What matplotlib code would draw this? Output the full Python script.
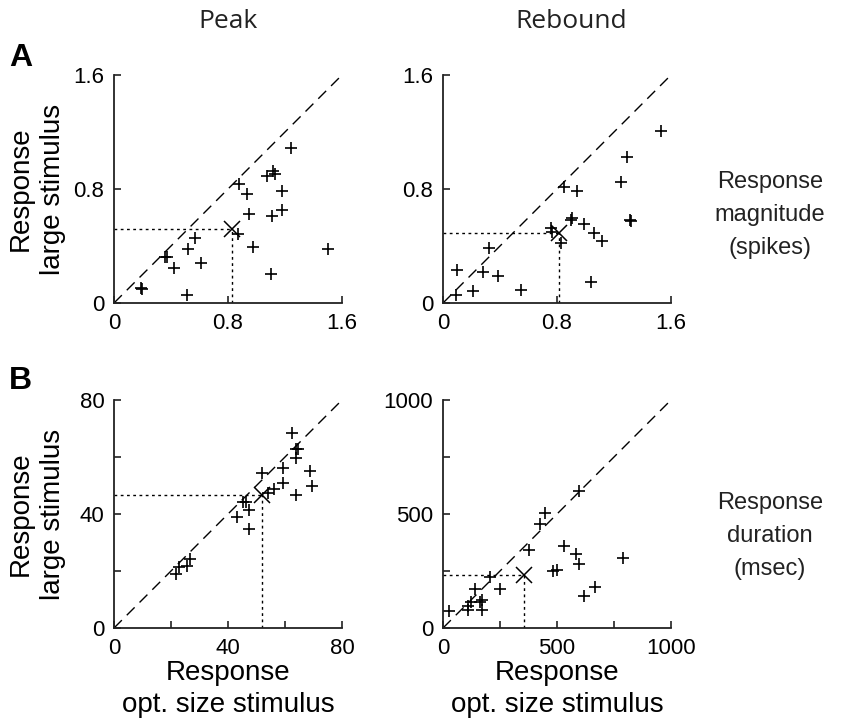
import numpy as np
import matplotlib
matplotlib.use("Agg")
import matplotlib.pyplot as plt
from matplotlib.ticker import FixedLocator, FuncFormatter

plt.rcParams['font.family'] = ['Liberation Sans', 'DejaVu Sans']

# --- data ---
# A, Peak: response magnitude (spikes)
peak_mag_x = [1.244, 1.073, 1.115, 1.129, 0.874, 0.930, 1.181, 0.947, 1.111, 1.176,
              0.872, 0.972, 1.502, 0.569, 0.520, 0.375, 0.358, 0.422, 0.612, 1.101,
              0.187, 0.195, 0.513]
peak_mag_y = [1.091, 0.888, 0.927, 0.906, 0.836, 0.766, 0.783, 0.624, 0.612, 0.656,
              0.481, 0.390, 0.381, 0.458, 0.376, 0.320, 0.320, 0.245, 0.280, 0.201,
              0.103, 0.100, 0.058]
peak_mag_mean = (0.829, 0.516)

# A, Rebound: response magnitude (spikes)
reb_mag_x = [1.530, 1.290, 1.250, 0.847, 0.943, 0.908, 0.899, 0.988, 1.314, 1.318,
             0.760, 0.765, 1.058, 1.114, 0.828, 0.324, 0.099, 0.282, 0.389, 1.037,
             0.211, 0.547, 0.094]
reb_mag_y = [1.210, 1.023, 0.848, 0.815, 0.787, 0.600, 0.584, 0.554, 0.579, 0.575,
             0.526, 0.498, 0.491, 0.432, 0.420, 0.383, 0.229, 0.217, 0.192, 0.147,
             0.082, 0.089, 0.058]
reb_mag_mean = (0.816, 0.491)

# B, Peak: response duration (msec)
peak_dur_x = [62.5, 63.7, 64.4, 63.8, 59.3, 68.9, 51.9, 59.4, 69.3, 56.2, 54.0,
              63.8, 45.3, 46.3, 47.3, 43.2, 47.3, 26.7, 22.7, 25.7, 21.8]
peak_dur_y = [68.3, 62.9, 62.9, 59.6, 56.1, 55.1, 54.5, 50.8, 49.8, 48.9, 47.2,
              46.6, 44.3, 44.3, 41.5, 39.1, 34.8, 24.2, 21.5, 21.6, 18.8]
peak_dur_mean = (51.9, 46.7)

# B, Rebound: response duration (msec)
reb_dur_x = [595, 447, 427, 375, 532, 582, 597, 790, 484, 499, 666, 619, 205, 252,
             142, 173, 161, 122, 109, 109, 172, 26]
reb_dur_y = [599, 504, 457, 343, 361, 326, 279, 307, 251, 254, 181, 142, 223, 172,
             171, 124, 114, 115, 98, 77, 80, 73]
reb_dur_mean = (356, 231)

W, H = 844, 726
fig = plt.figure(figsize=(W / 100, H / 100), dpi=100)


def px_axes(left, top, w=228, h=228):
    return fig.add_axes([left / W, 1 - (top + h) / H, w / W, h / H])


def draw(ax, xs, ys, mean, lim, ticks, labels):
    ax.plot([0, lim], [0, lim], color='black', lw=1.0, dashes=(8, 5))
    mx, my = mean
    ax.plot([0, mx], [my, my], color='black', lw=1.0, ls=(0, (2, 2.5)))
    ax.plot([mx, mx], [0, my], color='black', lw=1.0, ls=(0, (2, 2.5)))
    ax.plot(xs, ys, '+', color='black', ms=8, mew=1.2, clip_on=False)
    ax.plot([mx], [my], 'x', color='black', ms=12, mew=1.1, clip_on=False)
    ax.set_xlim(0, lim)
    ax.set_ylim(0, lim)
    for s in ['top', 'right']:
        ax.spines[s].set_visible(False)
    for s in ['left', 'bottom']:
        ax.spines[s].set_linewidth(1.3)
        ax.spines[s].set_color('#222222')
    fmt = FuncFormatter(lambda v, p: labels.get(round(v, 3), ''))
    for axis in (ax.xaxis, ax.yaxis):
        axis.set_major_locator(FixedLocator(ticks))
        axis.set_major_formatter(fmt)
    ax.tick_params(direction='in', length=5, width=1.2, labelsize=16,
                   color='#222222', pad=7)


ax1 = px_axes(114, 75)
draw(ax1, peak_mag_x, peak_mag_y, peak_mag_mean, 1.6, [0, 0.8, 1.6],
     {0: '0', 0.8: '0.8', 1.6: '1.6'})
ax2 = px_axes(443, 75)
draw(ax2, reb_mag_x, reb_mag_y, reb_mag_mean, 1.6, [0, 0.8, 1.6],
     {0: '0', 0.8: '0.8', 1.6: '1.6'})
ax3 = px_axes(114, 400)
draw(ax3, peak_dur_x, peak_dur_y, peak_dur_mean, 80, [0, 20, 40, 60, 80],
     {0: '0', 40: '40', 80: '80'})
ax4 = px_axes(443, 400)
draw(ax4, reb_dur_x, reb_dur_y, reb_dur_mean, 1000, [0, 250, 500, 750, 1000],
     {0: '0', 500: '500', 1000: '1000'})

lab = 20
for ax in (ax1, ax3):
    ax.set_ylabel('Response\nlarge stimulus', fontsize=lab, linespacing=1.3)
    ax.yaxis.set_label_coords(-0.21, 0.5)
for ax in (ax3, ax4):
    ax.set_xlabel('Response\nopt. size stimulus', fontsize=lab, linespacing=1.3)
    ax.xaxis.set_label_coords(0.5, -0.14)

fig.text(228 / W, 1 - 22 / H, 'Peak', ha='center', va='center', fontsize=19,
         family=['Open Sans', 'DejaVu Sans'], color='#222222')
fig.text(571 / W, 1 - 22 / H, 'Rebound', ha='center', va='center', fontsize=19,
         family=['Open Sans', 'DejaVu Sans'], color='#222222')

fig.text(9 / W, 1 - 58 / H, 'A', ha='left', va='center', fontsize=23, weight='bold')
fig.text(9 / W, 1 - 381 / H, 'B', ha='left', va='center', fontsize=23, weight='bold')

fig.text(770 / W, 1 - 215 / H, 'Response\nmagnitude\n(spikes)', ha='center',
         va='center', fontsize=17, linespacing=1.65, color='#222222')
fig.text(770 / W, 1 - 536 / H, 'Response\nduration\n(msec)', ha='center',
         va='center', fontsize=17, linespacing=1.65, color='#222222')

fig.savefig('out.png', dpi=100, facecolor='white')
